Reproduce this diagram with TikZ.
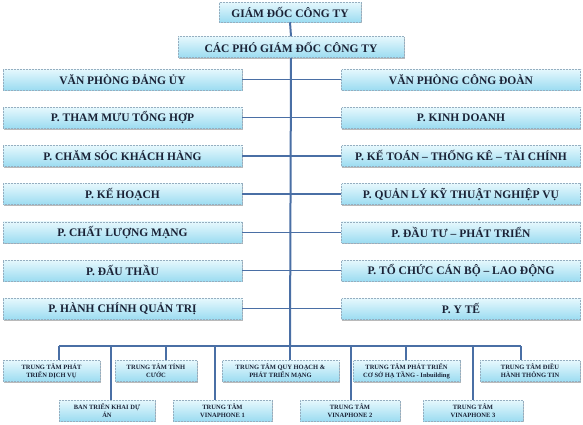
\documentclass[tikz,border=0pt]{standalone}
\usepackage{fontspec}
\setmainfont{Liberation Serif}
\usetikzlibrary{shadows}
\definecolor{boxtop}{HTML}{E6F8FD}
\definecolor{boxmid}{HTML}{C6EEF9}
\definecolor{boxbot}{HTML}{9CDCF1}
\definecolor{boxedge}{HTML}{95AEC0}
\definecolor{txt}{HTML}{1A2236}
\definecolor{lin}{HTML}{4A6FA5}
\tikzset{
  box/.style={draw=boxedge, densely dotted, line width=0.5pt, top color=boxtop, middle color=boxmid, bottom color=boxbot,
    drop shadow={shadow xshift=0.6pt, shadow yshift=-1.4pt, opacity=0.45, fill=black!60},
    text=txt, font=\fontsize{11.5}{13}\selectfont\bfseries, inner sep=0pt, align=center},
  bigbox/.style={box, minimum width=239pt, minimum height=21pt},
  smallbox/.style={box, font=\fontsize{6.5}{8}\selectfont\bfseries, minimum height=21pt},
  conn/.style={draw=lin, line width=1.3pt},
  trunk/.style={draw=lin, line width=2pt}
}
\begin{document}
\begin{tikzpicture}[x=1pt,y=-1pt]
\useasboundingbox (0,0) rectangle (583,424);
% coordinates
\coordinate (busL) at (59,346);
\coordinate (busR) at (521,346);
\coordinate (busC) at (290,346);
\foreach \n/\x in {d1/59,d2/111,d3/166,d4/215,d5/290,d6/351,d7/406,d8/473,d9/521}
  \coordinate (\n) at (\x,346);
% nodes
\node[box, minimum width=142pt, minimum height=20pt] (gd) at (290,12) {GIÁM ĐỐC CÔNG TY};
\node[box, minimum width=226pt, minimum height=21pt] (pgd) at (291,47) {CÁC PHÓ GIÁM ĐỐC CÔNG TY};
\foreach \i/\y/\lt/\rt in {
  1/79.5/VĂN PHÒNG ĐẢNG ỦY/VĂN PHÒNG CÔNG ĐOÀN,
  2/117.7/P. THAM MƯU TỔNG HỢP/P. KINH DOANH,
  3/155.9/P. CHĂM SÓC KHÁCH HÀNG/P. KẾ TOÁN – THỐNG KÊ – TÀI CHÍNH,
  4/194.1/P. KẾ HOẠCH/P. QUẢN LÝ KỸ THUẬT NGHIỆP VỤ,
  5/232.3/P. CHẤT LƯỢNG MẠNG/P. ĐẦU TƯ – PHÁT TRIỂN,
  6/270.5/P. ĐẤU THẦU/P. TỔ CHỨC CÁN BỘ – LAO ĐỘNG,
  7/308.7/P. HÀNH CHÍNH QUẢN TRỊ/P. Y TẾ}{
  \node[bigbox] (L\i) at (122.5,\y) {\lt};
  \node[bigbox] (R\i) at (461,\y) {\rt};
}
% bottom row 1
\node[smallbox, minimum width=97pt] (A) at (51.5,371) {TRUNG TÂM PHÁT\\TRIỂN DỊCH VỤ};
\node[smallbox, minimum width=82pt] (B) at (156,371) {TRUNG TÂM TÍNH\\CƯỚC};
\node[smallbox, minimum width=117pt] (C) at (280.5,371) {TRUNG TÂM QUY HOẠCH \&\\PHÁT TRIỂN MẠNG};
\node[smallbox, minimum width=107pt] (D) at (406.5,371) {TRUNG TÂM PHÁT TRIỂN\\CƠ SỞ HẠ TẦNG - Inbuilding};
\node[smallbox, minimum width=100pt] (E) at (530,371) {TRUNG TÂM ĐIỀU\\HÀNH THÔNG TIN};
% bottom row 2
\node[smallbox, minimum width=96pt] (F) at (107,410.5) {BAN TRIỂN KHAI DỰ\\ÁN};
\node[smallbox, minimum width=99pt] (G) at (222.5,410.5) {TRUNG TÂM\\VINAPHONE 1};
\node[smallbox, minimum width=100pt] (H) at (350,410.5) {TRUNG TÂM\\VINAPHONE 2};
\node[smallbox, minimum width=100pt] (I) at (473,410.5) {TRUNG TÂM\\VINAPHONE 3};
% connectors
\draw[trunk] (gd.south) -- (pgd.north);
\draw[trunk] (pgd.south) -- (busC);
\foreach \i in {1,...,7} \draw[conn] (L\i.east) -- (R\i.west);
\draw[trunk] (busL) -- (busR);
\foreach \d/\b in {d1/A,d2/F,d3/B,d4/G,d5/C,d6/H,d7/D,d8/I,d9/E}
  \draw[conn] (\d) -- (\d |- \b.north);
\end{tikzpicture}
\end{document}
